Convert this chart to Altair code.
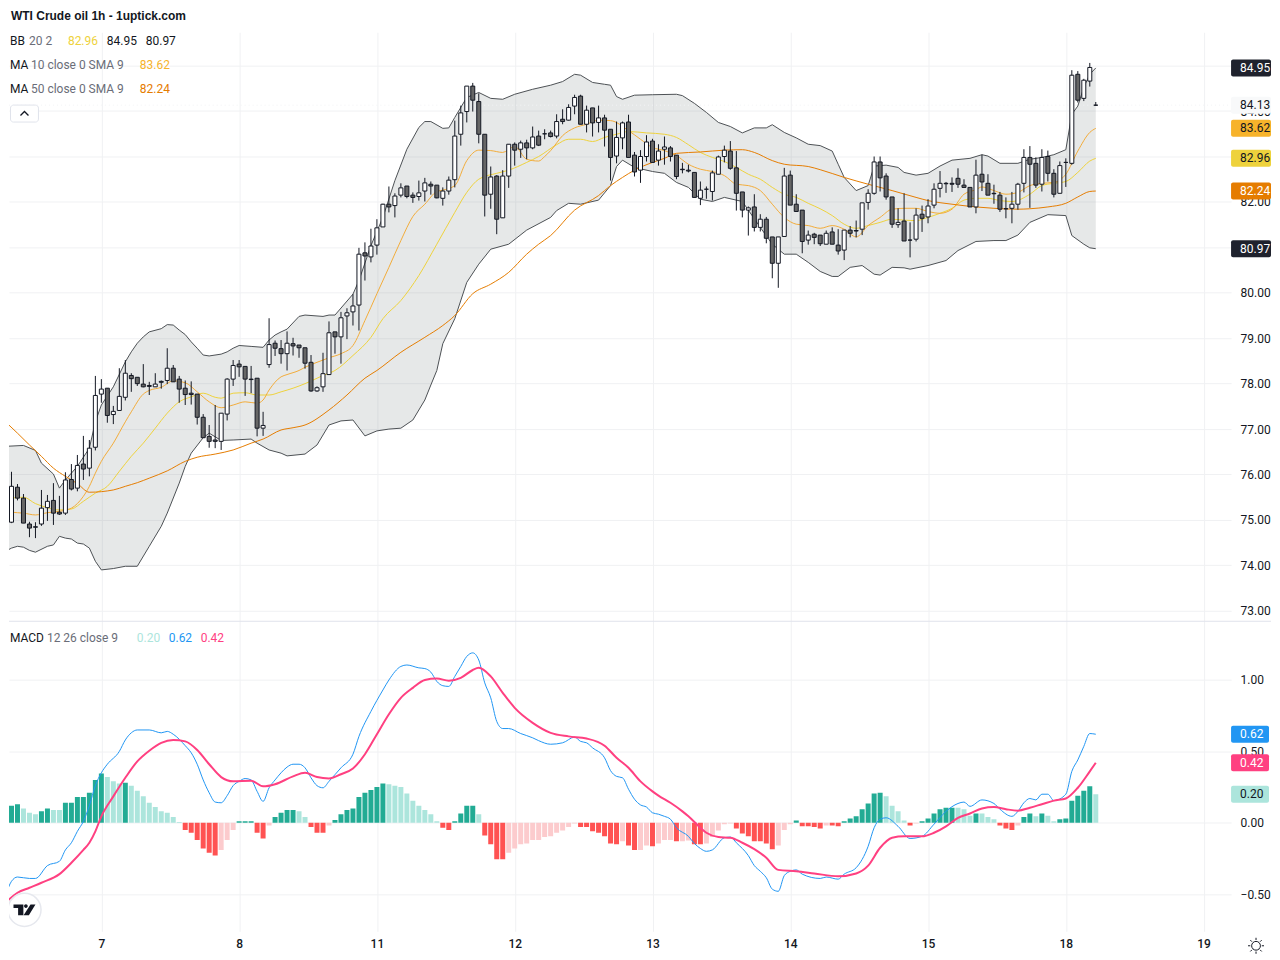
import altair as alt
import pandas as pd

FONT = "Roboto"
DARK = "#131722"
GRAY = "#6a6d78"
GRID = "#f0f1f3"

OPEN = [74.93,74.95,75.72,75.48,74.91,74.85,74.91,75.27,75.43,75.17,
75.15,75.89,75.70,76.23,76.14,76.60,77.77,77.90,77.32,77.41,
77.70,78.18,78.14,77.99,77.96,77.93,78.05,78.07,78.34,78.10,
77.90,77.79,77.77,77.26,76.84,76.76,76.73,77.33,78.10,78.43,
78.38,78.10,78.12,77.02,78.42,78.89,78.77,78.66,78.88,78.85,
78.79,78.47,77.84,77.93,78.20,79.14,79.03,79.49,79.58,79.73,
80.88,80.79,81.05,81.45,81.95,81.92,82.15,82.35,82.15,82.12,
82.24,82.39,82.37,82.08,82.24,82.49,83.49,83.99,84.55,84.21,
83.49,82.17,82.57,81.65,82.57,83.27,83.16,83.30,83.19,83.45,
83.50,83.52,83.45,83.82,83.80,84.11,84.33,83.71,84.07,83.75,
83.85,83.60,83.01,83.41,83.76,83.03,82.70,83.00,83.34,82.92,
83.16,83.19,83.03,82.72,82.70,82.65,82.08,82.28,82.23,82.61,
83.00,83.12,82.75,82.22,81.82,81.89,81.44,81.62,81.23,80.65,
81.24,82.59,81.95,81.82,81.16,81.29,81.27,81.07,81.34,81.05,
80.94,81.38,81.37,81.40,81.99,82.19,82.88,82.57,82.11,81.50,
81.58,81.16,81.18,81.73,81.67,81.93,82.30,82.41,82.41,82.52,
82.37,82.32,81.89,82.61,82.41,82.19,82.15,81.85,81.86,81.95,
82.41,82.98,82.85,82.39,83.00,82.63,82.19,82.87,82.85,84.81,
84.28,84.66,84.13]
HIGH = [75.18,76.06,75.79,75.57,74.96,74.95,75.66,75.55,75.81,75.53,
76.05,76.23,76.43,76.85,76.76,78.17,78.10,77.90,77.51,78.34,
78.52,78.23,78.14,78.43,78.04,78.23,78.07,78.78,78.41,78.17,
78.07,78.05,77.77,77.33,77.09,77.53,77.35,78.12,78.52,78.52,
78.38,78.39,78.12,77.38,79.44,78.95,78.96,79.15,79.01,78.85,
78.79,78.63,77.94,78.68,79.37,79.14,79.58,79.66,79.97,80.99,
81.11,81.41,81.62,81.96,82.34,82.19,82.41,82.35,82.21,82.47,
82.53,82.45,82.37,82.32,82.56,83.79,84.12,84.55,84.62,84.39,
83.49,82.78,82.59,82.70,83.27,83.31,83.35,83.37,83.66,83.57,
83.60,83.57,83.93,84.04,84.15,84.36,84.36,84.12,84.07,84.12,
83.92,83.60,83.77,83.77,83.92,83.10,83.14,83.47,83.39,83.27,
83.44,83.23,83.03,82.86,82.82,82.65,82.45,82.34,82.69,83.02,
83.24,83.34,83.12,82.22,81.90,82.17,81.73,81.67,81.23,81.23,
82.75,82.69,82.17,81.82,81.37,81.32,81.27,81.37,81.44,81.40,
81.38,81.47,81.59,81.98,82.28,83.00,83.00,82.63,82.11,81.86,
82.19,81.55,81.86,81.92,82.06,82.41,82.68,82.44,82.54,82.74,
82.50,82.32,82.93,83.04,82.61,82.38,82.22,82.10,82.22,82.42,
83.16,83.23,82.98,83.16,83.13,82.72,82.89,82.96,84.90,84.88,
84.71,85.06,84.20]
LOW = [74.65,74.93,75.43,74.93,74.62,74.60,74.87,74.98,74.89,75.11,
75.11,75.65,75.63,75.88,75.96,76.53,77.58,77.14,77.11,77.41,
77.63,77.82,77.95,77.92,77.75,77.93,77.89,77.99,78.04,77.58,
77.53,77.54,77.10,76.81,76.59,76.58,76.54,77.19,77.95,78.15,
77.73,77.79,76.84,76.85,78.35,78.61,78.44,78.29,78.62,78.57,
78.33,77.82,77.82,77.82,78.20,78.66,78.44,78.98,79.28,79.17,
80.27,80.67,80.84,81.45,81.77,81.66,82.10,82.08,81.98,82.03,
82.01,82.16,82.08,81.92,82.16,82.32,83.24,83.75,83.99,83.29,
81.68,81.85,81.29,81.65,82.31,82.80,82.97,82.94,83.16,83.23,
83.38,83.42,83.40,83.71,83.79,83.93,83.71,83.53,83.44,83.53,
83.22,82.47,82.85,83.16,82.98,82.56,82.42,82.89,82.87,82.80,
82.82,82.89,82.50,82.63,82.65,82.10,81.93,82.07,82.03,82.61,
82.87,82.71,81.81,81.66,81.26,81.35,81.35,81.09,80.32,80.11,
81.24,81.93,81.79,80.87,81.06,81.07,81.03,81.07,81.07,80.84,
80.72,81.22,81.22,81.27,81.83,82.16,82.23,82.05,81.43,81.43,
81.14,80.78,81.13,81.34,81.53,81.86,82.10,82.20,82.22,82.31,
82.31,81.89,81.75,82.24,82.15,81.96,81.78,81.64,81.53,81.83,
82.21,81.87,82.31,82.23,82.45,82.10,82.19,82.33,82.82,84.19,
84.22,84.54,84.12]
CLOSE = [74.91,75.74,75.48,74.93,74.82,74.84,75.26,75.41,75.15,75.13,
75.88,75.68,76.20,76.12,76.58,77.74,77.88,77.30,77.39,77.72,
78.23,78.11,78.00,77.93,77.94,77.99,78.03,78.34,78.04,77.88,
77.76,77.76,77.26,76.81,76.73,76.73,77.35,78.10,78.40,78.37,
78.10,78.09,77.02,77.08,78.86,78.78,78.66,78.89,78.83,78.79,
78.45,77.84,77.91,78.22,79.12,79.03,79.45,79.56,79.71,80.85,
80.81,81.03,81.43,81.95,81.89,82.13,82.31,82.12,82.10,82.20,
82.42,82.35,82.09,82.24,82.48,83.45,83.96,84.55,84.24,83.49,
82.15,82.55,81.62,82.57,83.27,83.14,83.30,83.19,83.43,83.25,
83.50,83.44,83.77,83.77,84.08,84.30,83.71,84.02,83.74,83.85,
83.58,82.98,83.42,83.74,82.98,82.66,83.00,83.32,82.87,83.12,
83.21,83.00,82.56,82.71,82.68,82.10,82.26,82.28,82.64,82.99,
83.14,82.74,82.19,81.82,81.87,81.44,81.62,81.20,80.65,81.23,
82.57,81.93,81.79,81.13,81.27,81.22,81.08,81.31,81.07,80.92,
81.38,81.31,81.36,81.98,82.19,82.88,82.53,82.11,81.51,81.55,
81.14,81.16,81.71,81.64,81.91,82.28,82.41,82.40,82.39,82.39,
82.32,81.89,82.59,82.44,82.15,82.18,81.84,81.85,81.95,82.39,
82.98,82.83,82.37,82.98,82.63,82.17,82.80,82.87,84.79,84.24,
84.68,84.96,84.13]

BB_UP_I = [0,3,5,6,8,9,10,12,14,15,16,18,20,21,22,23,24,26,27,28,29,30,31,32,33,34,36,37,38,39,41,43,44,45,46,47,49,50,53,54,55,58,59,61,63,65,67,69,70,71,73,74,75,77,79,81,83,85,88,91,93,95,96,98,100,101,102,103,105,108,112,113,115,117,119,121,123,125,127,128,130,132,134,136,138,139,140,142,144,145,147,149,150,152,154,156,158,161,163,164,166,169,171,173,175,177,178,179,180,181,182]
BB_UP = [76.62,76.64,76.53,76.25,76.01,75.70,75.88,76.18,76.58,77.16,77.53,77.93,78.48,78.70,78.89,79.03,79.14,79.21,79.30,79.29,79.18,79.08,78.92,78.78,78.63,78.61,78.65,78.70,78.78,78.84,78.82,78.80,78.96,79.07,79.14,79.20,79.48,79.51,79.48,79.51,79.51,79.97,80.27,81.04,81.66,82.47,83.16,83.64,83.77,83.77,83.62,83.63,83.86,84.30,84.41,84.28,84.26,84.37,84.48,84.57,84.65,84.81,84.79,84.63,84.59,84.57,84.32,84.26,84.35,84.36,84.37,84.34,84.17,83.97,83.75,83.66,83.52,83.63,83.63,83.70,83.53,83.41,83.27,83.24,83.12,82.83,82.54,82.25,82.36,82.79,82.81,82.76,82.65,82.59,82.63,82.79,82.92,82.96,83.04,83.01,82.85,82.85,82.94,82.98,83.04,83.15,83.93,84.11,84.52,84.81,84.95]
BB_LO_I = [0,1,2,3,4,5,7,8,9,10,11,12,13,14,15,16,18,20,22,24,26,27,29,30,31,33,34,36,38,41,42,44,46,47,50,52,54,56,58,60,62,64,66,68,70,71,72,73,75,77,79,81,84,87,91,92,94,96,99,101,102,103,105,108,110,112,114,116,118,120,123,126,128,130,132,134,136,138,139,141,143,145,146,148,150,151,154,157,159,162,165,167,169,171,174,177,178,180,181,182]
BB_LO = [74.31,74.38,74.42,74.40,74.33,74.29,74.42,74.45,74.64,74.60,74.58,74.49,74.47,74.38,74.09,73.90,73.93,73.98,73.98,74.42,74.86,75.15,75.81,76.18,76.47,76.81,76.91,76.75,76.76,76.78,76.69,76.54,76.47,76.41,76.45,76.65,77.09,77.18,77.20,76.85,76.96,77.00,77.02,77.20,77.64,77.97,78.29,78.88,79.43,80.23,80.63,80.96,81.07,81.38,81.66,81.81,81.97,81.95,82.04,82.36,82.78,82.92,82.76,82.67,82.63,82.43,82.32,82.06,82.01,82.10,82.01,81.44,81.07,80.85,80.85,80.67,80.47,80.36,80.36,80.56,80.60,80.41,80.39,80.56,80.55,80.52,80.60,80.71,80.93,81.13,81.15,81.15,81.27,81.55,81.72,81.70,81.26,81.07,80.99,80.97]
BB_MID_I = [0,1,3,5,7,9,11,13,15,17,19,21,23,25,27,29,31,33,35,36,38,40,42,44,46,48,50,53,55,58,61,63,66,69,72,75,77,79,82,84,87,89,92,94,96,98,100,102,104,107,110,112,114,116,118,120,122,124,126,128,130,132,134,136,138,140,142,144,146,148,150,152,154,156,158,160,162,164,166,168,171,173,175,177,179,181,182]
BB_MID = [75.44,75.48,75.50,75.36,75.27,75.22,75.24,75.41,75.59,75.74,76.07,76.40,76.69,77.02,77.35,77.60,77.71,77.79,77.70,77.68,77.79,77.80,77.75,77.75,77.82,77.90,78.00,78.18,78.29,78.62,79.02,79.43,79.83,80.38,81.07,81.77,82.21,82.50,82.63,82.70,82.87,83.00,83.26,83.38,83.38,83.33,83.42,83.49,83.55,83.52,83.49,83.42,83.26,83.09,82.98,82.89,82.76,82.61,82.50,82.32,82.17,82.10,81.97,81.85,81.70,81.51,81.42,81.48,81.55,81.62,81.60,81.59,81.66,81.75,81.86,82.04,82.08,82.08,82.03,82.01,82.17,82.36,82.41,82.45,82.65,82.90,82.96]
MA10_I = [0,1,3,5,7,9,11,12,13,14,15,16,18,20,21,23,24,26,28,30,32,34,36,38,40,42,43,44,46,47,49,50,52,54,56,58,60,62,64,66,68,70,72,73,75,77,79,81,83,85,87,89,90,91,93,95,97,99,101,104,106,108,110,112,114,116,118,120,122,124,126,128,130,132,134,136,138,140,142,144,146,148,150,152,154,156,158,160,162,163,165,167,169,171,173,175,177,179,181,182]
MA10 = [75.19,75.17,75.15,75.11,75.16,75.19,75.26,75.36,75.52,75.74,76.03,76.29,76.69,77.16,77.38,77.77,77.85,77.92,78.06,78.02,77.82,77.60,77.47,77.53,77.60,77.57,77.64,77.86,78.15,78.20,78.29,78.36,78.47,78.57,78.66,78.84,79.39,79.98,80.56,81.15,81.68,81.95,82.23,82.26,82.36,82.91,83.14,83.13,83.09,83.22,82.94,82.90,83.00,83.13,83.46,83.63,83.71,83.80,83.79,83.57,83.38,83.20,83.13,83.02,82.83,82.72,82.67,82.58,82.39,82.36,82.25,81.95,81.66,81.51,81.48,81.42,81.48,81.40,81.23,81.48,81.66,81.84,81.86,81.86,81.79,81.75,81.84,82.17,82.27,82.33,82.25,82.17,82.21,82.36,82.41,82.43,82.61,83.12,83.53,83.62]
MA50_I = [0,2,4,6,8,10,12,14,18,20,22,24,27,30,32,35,38,41,43,46,48,50,54,57,60,62,66,70,73,75,78,81,84,87,89,91,95,99,101,103,105,108,110,112,116,120,123,125,128,130,134,136,140,144,148,152,154,158,162,165,169,171,174,177,179,181,182]
MA50 = [77.16,76.91,76.65,76.40,76.14,75.96,75.80,75.61,75.66,75.74,75.82,75.92,76.08,76.29,76.38,76.45,76.54,76.69,76.78,76.98,77.03,77.09,77.42,77.75,78.12,78.29,78.69,79.02,79.28,79.50,79.98,80.19,80.45,80.85,81.07,81.26,81.82,82.14,82.36,82.54,82.70,82.87,82.96,83.07,83.10,83.14,83.15,83.09,82.91,82.83,82.78,82.71,82.54,82.39,82.25,82.10,82.03,81.95,81.89,81.86,81.84,81.85,81.89,81.97,82.11,82.23,82.24]

HIST = [.06,.12,.13,.10,.07,.06,.08,.10,.09,.09,
.14,.14,.18,.18,.21,.30,.345,.32,.29,.275,
.28,.26,.225,.185,.14,.11,.08,.07,.04,.005,
-.05,-.07,-.12,-.18,-.21,-.23,-.19,-.12,-.05,.01,
.01,.01,-.07,-.11,-.02,.04,.07,.09,.09,.08,
.04,-.03,-.07,-.07,-.02,.02,.06,.09,.10,.18,
.21,.23,.25,.275,.27,.26,.25,.205,.155,.12,
.09,.06,.01,-.035,-.05,.01,.065,.12,.12,.06,
-.09,-.15,-.255,-.255,-.21,-.18,-.15,-.145,-.12,-.12,
-.10,-.095,-.07,-.055,-.03,-.005,-.03,-.03,-.06,-.07,
-.095,-.145,-.15,-.13,-.16,-.19,-.19,-.16,-.165,-.145,
-.12,-.12,-.13,-.13,-.125,-.15,-.15,-.145,-.10,-.055,
-.01,-.005,-.04,-.075,-.095,-.13,-.13,-.145,-.185,-.16,
-.05,-.01,.015,-.025,-.025,-.03,-.04,-.02,-.02,-.025,
.01,.03,.045,.095,.135,.205,.21,.185,.12,.08,
.015,-.02,-.005,.01,.03,.065,.095,.105,.105,.105,
.095,.05,.065,.065,.04,.025,-.02,-.04,-.05,-.02,
.04,.065,.045,.065,.05,.01,.025,.03,.155,.19,
.225,.255,.20]
# a dark green, b light green, c red, d light red (kind, bars in a row)
KIND_RUNS = [("b",1),("a",2),("b",3),("a",2),("b",2),("a",7),("b",3),("a",1),("b",9),
("c",6),("d",3),("a",3),("c",2),("d",1),("a",4),("b",2),("c",3),("d",1),("a",9),("b",9),
("c",2),("a",4),("b",1),("c",4),("d",12),("c",7),("d",1),("c",2),("d",2),("c",1),("d",3),
("c",1),("d",2),("c",2),("d",5),("c",7),("d",3),("a",1),("c",4),("d",1),("c",2),("a",7),
("b",4),("c",1),("d",1),("a",6),("b",3),("a",1),("b",3),("c",3),("d",1),("a",2),("b",1),
("a",1),("b",2),("a",6),("b",1)]
HIST_KIND = [k for k, n in KIND_RUNS for _ in range(n)]

MACD_I = [0,1,2,4,5,7,9,10,11,12,13,14,15,16,17,19,20,21,22,24,26,27,28,30,31,32,33,34,35,36,37,38,39,40,41,42,43,44,45,46,47,48,49,50,51,52,53,54,56,58,59,61,63,64,66,67,69,70,71,72,73,74,75,76,77,78,79,80,81,82,83,84,86,88,89,91,93,95,96,97,98,100,101,102,103,104,105,106,107,108,109,110,111,112,114,115,116,117,118,120,121,122,124,125,126,127,128,129,130,131,132,133,136,137,139,140,142,144,145,146,147,149,151,153,155,157,159,160,161,163,165,166,168,169,170,171,172,173,174,175,177,178,179,180,181,182]
MACD = [-.51,-.41,-.38,-.39,-.39,-.30,-.27,-.19,-.14,-.06,.01,.12,.26,.35,.41,.50,.58,.63,.65,.65,.63,.64,.62,.54,.49,.41,.30,.21,.145,.14,.19,.26,.29,.31,.30,.22,.15,.245,.30,.35,.39,.41,.41,.385,.315,.26,.245,.29,.385,.48,.605,.78,.93,1.00,1.095,1.105,1.085,1.08,1.055,.99,.96,.955,1.025,1.095,1.165,1.19,1.14,.98,.875,.71,.66,.66,.625,.595,.575,.55,.56,.60,.57,.56,.525,.455,.365,.325,.315,.235,.165,.125,.11,.07,.06,.045,.025,-.035,-.095,-.145,-.18,-.20,-.19,-.105,-.10,-.14,-.23,-.30,-.34,-.385,-.465,-.48,-.37,-.34,-.33,-.36,-.39,-.38,-.395,-.36,-.315,-.165,-.035,.025,.035,-.025,-.11,-.095,-.01,.08,.135,.145,.115,.16,.135,.095,.045,.08,.14,.17,.16,.20,.20,.155,.20,.36,.44,.535,.625,.62]
SIGNAL_I = [0,2,4,6,9,11,13,14,15,16,18,20,22,24,26,28,30,32,34,36,38,41,43,45,48,50,52,54,56,58,60,62,64,66,68,70,72,74,76,78,79,81,83,85,88,91,94,97,100,102,104,106,108,109,111,113,114,116,117,119,121,123,125,127,129,132,135,139,142,144,146,148,150,153,155,157,159,161,163,165,167,169,171,173,175,177,179,181,182]
SIGNAL = [-.56,-.49,-.455,-.42,-.36,-.28,-.19,-.14,-.06,.045,.185,.315,.43,.505,.56,.58,.57,.51,.41,.32,.29,.295,.255,.27,.325,.35,.32,.31,.34,.38,.48,.62,.76,.875,.945,1.0,1.01,.995,1.015,1.07,1.085,1.025,.91,.805,.70,.63,.605,.59,.54,.455,.385,.29,.22,.19,.14,.08,.045,-.035,-.07,-.10,-.105,-.14,-.185,-.245,-.33,-.34,-.355,-.375,-.355,-.30,-.175,-.105,-.095,-.095,-.07,-.025,.035,.065,.10,.11,.095,.085,.105,.13,.155,.17,.245,.36,.42]

DAY_POS = [16,39,62,85,108,131,154,177,200]
DAY_LABELS = ["7","8","11","12","13","14","15","18","19"]
PRICE_TICKS = [73,74,75,76,77,78,79,80,81,82,83,84,85]
MACD_TICKS = [-0.5,0,0.5,1]

PRICE_TAGS = [84.95,84.13,83.62,82.96,82.24,80.97]
PRICE_TAG_FILL = ["#1f222d","#f8f9fa","#f7b32b","#eed23c","#e57c00","#1f222d"]
PRICE_TAG_TEXT = ["#ffffff",DARK,DARK,DARK,"#ffffff","#ffffff"]
MACD_TAGS = [0.62,0.42,0.20]
MACD_TAG_FILL = ["#2196f3","#ff4081","#ace5dc"]
MACD_TAG_TEXT = ["#ffffff","#ffffff",DARK]

W, H1, H2 = 1224, 613, 311
x_scale = alt.Scale(domain=[0.5833, 204.5833], nice=False, zero=False, padding=0)
p_scale = alt.Scale(domain=[72.7802, 86.2527], nice=False, zero=False)
m_scale = alt.Scale(domain=[-0.7601, 1.4147], nice=False, zero=False)
ONE = pd.DataFrame({"a": [0]})
I = list(range(len(OPEN)))

cdf = pd.DataFrame({"i": I, "o": OPEN, "h": HIGH, "l": LOW, "c": CLOSE})
cdf["fill"] = ["#ffffff" if c > o else "#666666" for o, c in zip(OPEN, CLOSE)]


def x_enc():
    return alt.X("i:Q", scale=x_scale, axis=None)


def series(ii, vv, scale, color, width=1.0, interp="monotone", opacity=1.0):
    n = min(len(ii), len(vv))
    df = pd.DataFrame({"i": ii[:n], "v": vv[:n]})
    return alt.Chart(df).mark_line(
        color=color, strokeWidth=width, interpolate=interp, clip=True, opacity=opacity
    ).encode(x=x_enc(), y=alt.Y("v:Q", scale=scale, axis=None))


def text(px, py, s, color=DARK, size=12, weight="normal", align="left", font=FONT):
    return alt.Chart(ONE).mark_text(
        font=font, fontSize=size, fontWeight=weight, align=align, baseline="middle", color=color
    ).encode(x=alt.value(px), y=alt.value(py), text=alt.value(s))


def axis_y(ticks, **kw):
    return alt.Axis(
        orient="right", values=ticks, title=None, domain=False, ticks=False, grid=True,
        gridColor=GRID, gridWidth=1, labelPadding=9, labelFont=FONT, labelFontSize=12,
        labelColor=DARK, labelOverlap=False, labelFlush=False, labelBound=False, **kw
    )


def tags(vals, fills, tcols, scale, half, right):
    df = pd.DataFrame({"v": vals, "fill": fills, "tc": tcols})
    df["v0"] = df["v"] - half
    df["v1"] = df["v"] + half
    df["lab"] = [f"{v:.2f}" for v in vals]
    r = alt.Chart(df).mark_rect(cornerRadius=2).encode(
        x=alt.value(W), x2=alt.value(right),
        y=alt.Y("v0:Q", scale=scale, axis=None), y2="v1:Q",
        color=alt.Color("fill:N", scale=None, legend=None),
    )
    t = alt.Chart(df).mark_text(font=FONT, fontSize=12, align="left", baseline="middle").encode(
        x=alt.value(W + 9), y=alt.Y("v:Q", scale=scale, axis=None), text="lab:N",
        color=alt.Color("tc:N", scale=None, legend=None),
    )
    return [r, t]


# ---------- price panel ----------
nu = min(len(BB_UP_I), len(BB_UP))
nl = min(len(BB_LO_I), len(BB_LO))
up = pd.DataFrame({"i": BB_UP_I[:nu], "v": BB_UP[:nu]})
lo = pd.DataFrame({"i": BB_LO_I[:nl][::-1], "v": BB_LO[:nl][::-1]})
poly = pd.concat([up, lo], ignore_index=True)
poly["ord"] = range(len(poly))
band = alt.Chart(poly).mark_line(
    fill="#828c8c", fillOpacity=0.2, stroke="transparent", strokeWidth=0, clip=True
).encode(
    x=alt.X("i:Q", scale=x_scale, title=None, axis=alt.Axis(
        values=DAY_POS, labels=False, ticks=False, domain=False, grid=True,
        gridColor=GRID, gridWidth=1, title=None)),
    y=alt.Y("v:Q", scale=p_scale, title=None, axis=axis_y(PRICE_TICKS, format=".2f")),
    order=alt.Order("ord:Q"),
)
mask = alt.Chart(ONE).mark_rect(color="#ffffff").encode(
    x=alt.value(0), x2=alt.value(W), y=alt.value(0), y2=alt.value(24))
price_line = alt.Chart(pd.DataFrame({"v": [84.13]})).mark_rule(
    color="#f2f3f5", strokeDash=[1, 3], strokeWidth=1, clip=True
).encode(x=alt.value(0), x2=alt.value(W), y=alt.Y("v:Q", scale=p_scale, axis=None))

wick = alt.Chart(cdf).mark_rule(color="#131722", strokeWidth=1, clip=True).encode(
    x=x_enc(), y=alt.Y("l:Q", scale=p_scale, axis=None), y2="h:Q")
body = alt.Chart(cdf).mark_bar(size=4, stroke="#131722", strokeWidth=1, clip=True).encode(
    x=x_enc(), y=alt.Y("o:Q", scale=p_scale, axis=None), y2="c:Q",
    color=alt.Color("fill:N", scale=None, legend=None))

button = alt.Chart(ONE).mark_rect(
    fill="#ffffff", stroke="#e0e3eb", strokeWidth=1, cornerRadius=3
).encode(x=alt.value(1.5), x2=alt.value(29.5), y=alt.value(96.5), y2=alt.value(113.5))
chevron = alt.Chart(ONE).mark_point(
    shape="M-1,0.6 L0,-0.4 L1,0.6", filled=False, stroke=DARK, strokeWidth=1.3, size=64, opacity=1
).encode(x=alt.value(15.5), y=alt.value(104.5))

price_layers = [
    band, mask, price_line,
    series(BB_UP_I, BB_UP, p_scale, "#4c5054", interp="linear"),
    series(BB_LO_I, BB_LO, p_scale, "#4c5054", interp="linear"),
    series(BB_MID_I, BB_MID, p_scale, "#eed23c"),
    series(MA10_I, MA10, p_scale, "#f2ac3a"),
    series(MA50_I, MA50, p_scale, "#e57c00"),
    wick, body,
    *tags(PRICE_TAGS, PRICE_TAG_FILL, PRICE_TAG_TEXT, p_scale, 0.187, W + 40),
    text(2, 7.5, "WTI Crude oil  1h - 1uptick.com", size=12, weight="bold", font="Liberation Sans"),
    text(1, 32, "BB"), text(20, 32, "20 2", GRAY), text(59, 32, "82.96", "#eed23c"),
    text(98, 32, "84.95"), text(137, 32, "80.97"),
    text(1, 56, "MA"), text(22, 56, "10 close 0 SMA 9", GRAY), text(131, 56, "83.62", "#f7b32b"),
    text(1, 80, "MA"), text(22, 80, "50 close 0 SMA 9", GRAY), text(131, 80, "82.24", "#e57c00"),
    button, chevron,
]
top = alt.layer(*price_layers).resolve_axis(x="independent", y="independent").properties(width=W, height=H1)

# ---------- MACD panel ----------
hcol = {"a": "#22ab94", "b": "#ace5dc", "c": "#ff5252", "d": "#fccbcd"}
hdf = pd.DataFrame({"i": I, "h": HIST, "kind": HIST_KIND})
hdf["fill"] = hdf["kind"].map(hcol)
hdf["zero"] = 0
label_expr = "{" + ",".join(f"'{p}':'{d}'" for p, d in zip(DAY_POS, DAY_LABELS)) + "}[datum.value]"
hist = alt.Chart(hdf).mark_bar(size=5, clip=True).encode(
    x=alt.X("i:Q", scale=x_scale, title=None, axis=alt.Axis(
        values=DAY_POS, labelExpr=label_expr, ticks=False, domain=False, grid=True,
        gridColor=GRID, gridWidth=1, title=None, labelFont=FONT, labelFontSize=12,
        labelFontWeight=500, labelColor=DARK, labelPadding=7, labelOverlap=False,
        labelFlush=False, labelBound=False)),
    y=alt.Y("h:Q", scale=m_scale, title=None,
            axis=axis_y(MACD_TICKS, labelExpr="replace(format(datum.value,'.2f'),'-','\u2212')")),
    y2="zero:Q",
    color=alt.Color("fill:N", scale=None, legend=None),
)
sep = alt.Chart(ONE).mark_rule(color="#e0e3eb", strokeWidth=1).encode(
    x=alt.value(0), x2=alt.value(W + 40), y=alt.value(0.5))
circle = alt.Chart(ONE).mark_point(
    shape="circle", size=1100, filled=True, fill="#ffffff", stroke="#e6e8ee", strokeWidth=1.5, opacity=1, clip=True
).encode(x=alt.value(15.5), y=alt.value(289.5))
LOGO = ("M-1,-.49 L-.1,-.49 L-.1,.49 L-.58,.49 L-.58,-.16 L-1,-.16 Z "
        "M-.04,-.34 A.17,.17 0 1 1 .30,-.34 A.17,.17 0 1 1 -.04,-.34 Z "
        "M.55,-.49 L1,-.49 L.4,.49 L-.08,.49 Z")
logo = alt.Chart(ONE).mark_point(
    shape=LOGO, size=484, filled=True, fill="#131722", strokeWidth=0, opacity=1
).encode(x=alt.value(15.5), y=alt.value(289.5))
GEAR = ("M-.55,0 A.55,.55 0 1 1 .55,0 A.55,.55 0 1 1 -.55,0 Z "
        "M0,-.72 L0,-1 M0,.72 L0,1 M-.72,0 L-1,0 M.72,0 L1,0 "
        "M-.51,-.51 L-.71,-.71 M.51,-.51 L.71,-.71 M-.51,.51 L-.71,.71 M.51,.51 L.71,.71")
gear = alt.Chart(ONE).mark_point(
    shape=GEAR, size=256, filled=False, stroke=DARK, strokeWidth=1, opacity=1
).encode(x=alt.value(1249), y=alt.value(325.5))

macd_layers = [
    hist,
    series(MACD_I, MACD, m_scale, "#2196f3", width=1),
    series(SIGNAL_I, SIGNAL, m_scale, "#ff4081", width=2),
    *tags(MACD_TAGS, MACD_TAG_FILL, MACD_TAG_TEXT, m_scale, 0.0594, W + 38),
    sep,
    text(1, 17, "MACD"), text(38, 17, "12 26 close 9", GRAY),
    text(128, 17, "0.20", "#ace5dc"), text(160, 17, "0.62", "#2196f3"), text(192, 17, "0.42", "#ff4081"),
    circle, logo, gear,
]
bottom = alt.layer(*macd_layers).resolve_axis(x="independent", y="independent").properties(width=W, height=H2)

chart = alt.vconcat(top, bottom, spacing=0, bounds="flush").properties(
    padding={"left": 0, "top": 0, "right": 0, "bottom": 0}, background="#ffffff"
).configure_view(strokeWidth=0, stroke=None)

chart.save("out.html", embed_options={"renderer": "svg", "actions": False})
